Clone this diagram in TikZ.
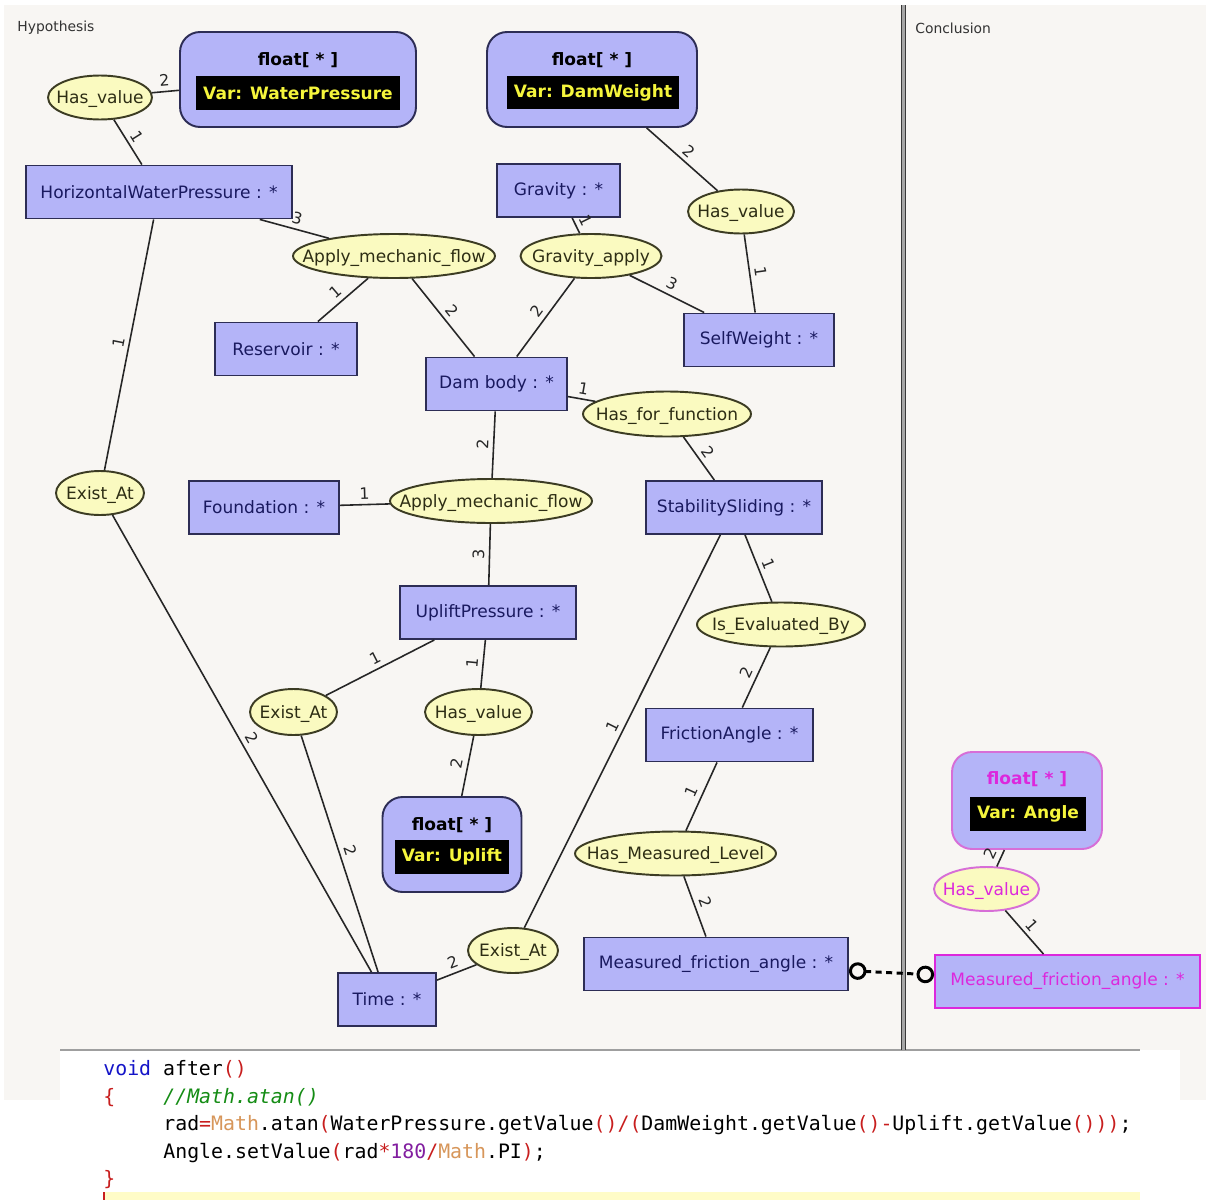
\documentclass[tikz,border=0pt]{standalone}
\usepackage{fontspec}
\setmainfont{DejaVu Sans}
\setmonofont{DejaVu Sans Mono}
\usetikzlibrary{shapes.geometric,arrows.meta}

\definecolor{panelbg}{RGB}{248,246,243}
\definecolor{cfill}{RGB}{180,180,248}
\definecolor{cline}{RGB}{45,45,85}
\definecolor{ctext}{RGB}{25,25,95}
\definecolor{rfill}{RGB}{250,250,192}
\definecolor{rline}{RGB}{60,60,35}
\definecolor{rtext}{RGB}{45,45,20}
\definecolor{conc}{RGB}{220,40,220}
\definecolor{concline}{RGB}{215,110,215}
\definecolor{varyel}{RGB}{245,245,60}
\definecolor{kwblue}{RGB}{20,20,200}
\definecolor{opred}{RGB}{200,30,30}
\definecolor{cmtgreen}{RGB}{20,140,20}
\definecolor{clstan}{RGB}{215,150,90}
\definecolor{numpurple}{RGB}{130,30,160}

\newcommand\rtxt[1]{\makebox[0pt]{#1}}
\newcommand\cdkw[1]{\textcolor{kwblue}{#1}}
\newcommand\cdop[1]{\textcolor{opred}{#1}}
\newcommand\cdcls[1]{\textcolor{clstan}{#1}}
\newcommand\cdnum[1]{\textcolor{numpurple}{#1}}

\tikzset{
  concept/.style={draw=cline, fill=cfill, text=ctext, line width=1.1pt, minimum height=1.06cm, inner sep=0pt, font=\fontsize{9.7}{11}\selectfont},
  relation/.style={ellipse, draw=rline, fill=rfill, text=rtext, line width=1.1pt, minimum height=0.88cm, inner sep=0pt, text depth=0pt, font=\fontsize{9.7}{11}\selectfont},
  floatbox/.style={rounded corners=0.4cm, draw=cline, fill=cfill, line width=1.1pt, minimum height=1.9cm},
  floattitle/.style={text=black, inner sep=0pt, font=\fontsize{9.7}{11}\selectfont\bfseries},
  varbox/.style={fill=black, text=varyel, inner xsep=4pt, inner ysep=0pt, minimum height=0.68cm, font=\fontsize{9.7}{11}\selectfont\bfseries},
  lbl/.style={sloped, above, inner sep=2.5pt, text=black!85, font=\fontsize{9}{10}\selectfont},
  link/.style={draw=black!85, line width=0.9pt},
  bridge/.style={draw=black, line width=1.7pt, dash pattern=on 3.5pt off 2.5pt, {Circle[length=10pt, fill=panelbg]}-{Circle[length=10pt, fill=panelbg]}},
  panetitle/.style={anchor=west, inner sep=0pt, text=black!80, font=\fontsize{7.9}{9}\selectfont},
  codeline/.style={anchor=base west, inner sep=0pt, font=\fontsize{11.3}{13}\selectfont\ttfamily}
}

\begin{document}
\begin{tikzpicture}[x=0.02cm, y=-0.02cm]
\useasboundingbox (0,0) rectangle (1206,1200);
\fill[white] (0,0) rectangle (1206,1200);
\fill[panelbg] (4,5) rectangle (1206,1100);
\fill[white] (60,1050) rectangle (1180,1200);
\draw[gray!75, line width=1.2pt] (60,1050) -- (1140,1050);
\fill[gray!70] (901,5) rectangle (906,1050);
\draw[gray!45!black, line width=0.6pt] (901.5,5) -- (901.5,1050) (905.5,5) -- (905.5,1050);
\node[panetitle] (hyp) at (17,28) {Hypothesis};
\node[panetitle] (concl) at (915,28) {Conclusion};

\node[floatbox, minimum width=4.72cm] (fwp) at (298,79.5) {};
\node[floattitle] (fwpt) at (298,60) {float[ * ]};
\node[varbox] (fwpv) at (298,93) {Var: WaterPressure};
\node[floatbox, minimum width=4.2cm] (fdw) at (592,79.5) {};
\node[floattitle] (fdwt) at (592,60) {float[ * ]};
\node[varbox] (fdwv) at (593,92.5) {Var: DamWeight};
\node[floatbox, minimum width=2.78cm] (fup) at (452,844.5) {};
\node[floattitle] (fupt) at (452,825) {float[ * ]};
\node[varbox] (fupv) at (452,857) {Var: Uplift};
\node[floatbox, draw=concline, minimum width=3cm, minimum height=1.94cm] (fang) at (1027,800.5) {};
\node[floattitle, text=conc] (fangt) at (1027,779) {float[ * ]};
\node[varbox] (fangv) at (1028,814) {Var: Angle};

\node[relation, minimum width=2.08cm] (hv1) at (100,97.5) {\rtxt{Has\_value}};
\node[relation, minimum width=2.12cm] (hv2) at (741,211.5) {\rtxt{Has\_value}};
\node[relation, minimum width=4.04cm] (amf1) at (394,256) {\rtxt{Apply\_mechanic\_flow}};
\node[relation, minimum width=2.82cm] (gapp) at (591,256) {\rtxt{Gravity\_apply}};
\node[relation, minimum width=3.36cm, minimum height=0.9cm] (hff) at (667,414) {\rtxt{Has\_for\_function}};
\node[relation, minimum width=1.76cm] (ea1) at (100,493) {\rtxt{Exist\_At}};
\node[relation, minimum width=4.04cm] (amf2) at (491,501) {\rtxt{Apply\_mechanic\_flow}};
\node[relation, minimum width=3.36cm] (ieb) at (781,624.5) {\rtxt{Is\_Evaluated\_By}};
\node[relation, minimum width=1.74cm, minimum height=0.92cm] (ea2) at (293.5,712) {\rtxt{Exist\_At}};
\node[relation, minimum width=2.14cm, minimum height=0.92cm] (hv3) at (478.5,712) {\rtxt{Has\_value}};
\node[relation, minimum width=4.02cm] (hml) at (675.5,853.5) {\rtxt{Has\_Measured\_Level}};
\node[relation, minimum width=1.8cm, minimum height=0.9cm] (ea3) at (513,950.5) {\rtxt{Exist\_At}};
\node[relation, draw=concline, text=conc, minimum width=2.1cm] (hv4) at (986.5,889) {\rtxt{Has\_value}};

\node[concept, minimum width=5.32cm] (hwp) at (159,192) {HorizontalWaterPressure : *};
\node[concept, minimum width=2.46cm] (grav) at (558.5,190.5) {Gravity : *};
\node[concept, minimum width=2.84cm] (res) at (286,349) {Reservoir : *};
\node[concept, minimum width=3cm] (sw) at (759,340) {SelfWeight : *};
\node[concept, minimum width=2.82cm] (dam) at (496.5,384) {Dam body : *};
\node[concept, minimum width=3cm] (fnd) at (264,507.5) {Foundation : *};
\node[concept, minimum width=3.52cm] (ss) at (734,507.5) {StabilitySliding : *};
\node[concept, minimum width=3.52cm] (up) at (488,612.5) {UpliftPressure : *};
\node[concept, minimum width=3.34cm] (fa) at (729.5,735) {FrictionAngle : *};
\node[concept, minimum width=1.96cm] (time) at (387,999.5) {Time : *};
\node[concept, minimum width=5.28cm] (mfa) at (716,964) {Measured\_friction\_angle : *};
\node[concept, draw=conc, text=conc, minimum width=5.3cm] (mfa2) at (1067.5,981.5) {Measured\_friction\_angle : *};

\draw[link] (hv1) -- node[lbl] {2} (fwp);
\draw[link] (hv1) -- node[lbl] {1} (hwp);
\draw[link] (hwp) -- node[lbl] {3} (amf1);
\draw[link] (hwp) -- node[lbl] {1} (ea1);
\draw[link] (amf1) -- node[lbl] {1} (res);
\draw[link] (amf1) -- node[lbl] {2} (dam);
\draw[link] (grav) -- node[lbl] {1} (gapp);
\draw[link] (gapp) -- node[lbl] {2} (dam);
\draw[link] (gapp) -- node[lbl] {3} (sw);
\draw[link] (fdw) -- node[lbl] {2} (hv2);
\draw[link] (hv2) -- node[lbl] {1} (sw);
\draw[link] (dam) -- node[lbl] {1} (hff);
\draw[link] (dam) -- node[lbl] {2} (amf2);
\draw[link] (hff) -- node[lbl] {2} (ss);
\draw[link] (fnd) -- node[lbl] {1} (amf2);
\draw[link] (amf2) -- node[lbl] {3} (up);
\draw[link] (ss) -- node[lbl] {1} (ieb);
\draw[link] (ss) -- node[lbl] {1} (ea3);
\draw[link] (up) -- node[lbl] {1} (ea2);
\draw[link] (up) -- node[lbl] {1} (hv3);
\draw[link] (hv3) -- node[lbl] {2} (fup);
\draw[link] (ieb) -- node[lbl] {2} (fa);
\draw[link] (fa) -- node[lbl] {1} (hml);
\draw[link] (hml) -- node[lbl] {2} (mfa);
\draw[link] (ea1) -- node[lbl] {2} (time);
\draw[link] (ea2) -- node[lbl] {2} (time);
\draw[link] (ea3) -- node[lbl] {2} (time);
\draw[link] (fang) -- node[lbl] {2} (hv4);
\draw[link] (hv4) -- node[lbl] {1} (mfa2);
\draw[bridge] (mfa) -- (mfa2);

\node[codeline] (c1) at (103,1075) {\cdkw{void} after\cdop{()}};
\node[codeline] (c2) at (103,1103) {\cdop{\{}};
\node[codeline, text=cmtgreen, font=\fontsize{11.3}{13}\selectfont\ttfamily\itshape] (c2b) at (163,1103) {//Math.atan()};
\node[codeline] (c3) at (163,1130) {rad\cdop{=}\cdcls{Math}.atan\cdop{(}WaterPressure.getValue\cdop{()/(}DamWeight.getValue\cdop{()-}Uplift.getValue\cdop{()))};};
\node[codeline] (c4) at (163,1158) {Angle.setValue\cdop{(}rad\cdop{*}\cdnum{180}\cdop{/}\cdcls{Math}.PI\cdop{)};};
\node[codeline] (c5) at (103,1185) {\cdop{\}}};
\fill[yellow!22] (103,1192) rectangle (1140,1200);
\fill[opred] (103,1192) rectangle (105,1200);
\end{tikzpicture}
\end{document}
